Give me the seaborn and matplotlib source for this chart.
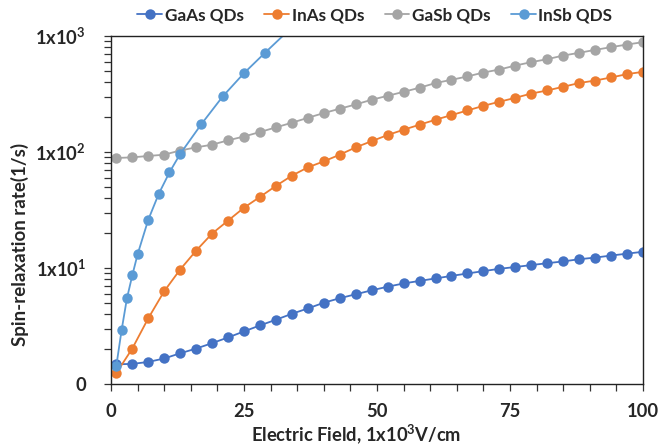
import numpy as np
import pandas as pd
import matplotlib
matplotlib.use("Agg")
import matplotlib.pyplot as plt
import seaborn as sns
from matplotlib.lines import Line2D
from matplotlib.ticker import FixedLocator, LogLocator, NullFormatter, FixedFormatter

# ---------------- data ----------------
field = [1, 4, 7, 10, 13, 16, 19, 22, 25, 28, 31, 34, 37, 40, 43, 46, 49, 52,
         55, 58, 61, 64, 67, 70, 73, 76, 79, 82, 85, 88, 91, 94, 97, 100]

gaas = [1.48, 1.49, 1.55, 1.66, 1.84, 2.02, 2.25, 2.52, 2.84, 3.20, 3.58, 4.03,
        4.48, 5.02, 5.49, 5.94, 6.42, 6.90, 7.36, 7.74, 8.13, 8.55, 8.97, 9.40,
        9.84, 10.2, 10.6, 11.0, 11.4, 11.9, 12.3, 12.8, 13.3, 13.8]

inas = [1.24, 2.02, 3.68, 6.3, 9.7, 14.1, 19.8, 25.6, 33.1, 41.0, 51.0, 62.5,
        73.7, 83.0, 94.8, 109.6, 124.0, 140.0, 155.6, 171.8, 189.7, 208.0,
        228.0, 250.0, 271.0, 293.0, 319.0, 339.0, 365.0, 393.0, 413.0, 439.0,
        469.0, 491.0]

gasb = [88.8, 89.9, 92.4, 94.8, 103.0, 109.6, 115.6, 126.0, 136.0, 148.6, 163.0,
        178.7, 197.0, 216.6, 236.0, 257.0, 282.0, 305.0, 330.0, 358.0, 393.0,
        419.0, 448.0, 484.0, 514.0, 556.0, 595.0, 631.0, 678.0, 716.0, 759.0,
        801.0, 844.0, 885.0]

insb_field = [1, 2, 3, 4, 5, 7, 9, 11, 13, 17, 21, 25, 29, 33]
insb = [1.43, 2.92, 5.47, 8.62, 13.1, 26.0, 43.8, 66.8, 96.1, 174.0, 301.0,
        478.0, 720.0, 1074.0]

series_names = ["GaAs QDs", "InAs QDs", "GaSb QDs", "InSb QDS"]
colors = ["#4472C4", "#ED7D31", "#A5A5A5", "#5B9BD5"]

x_ticks = [0, 25, 50, 75, 100]
y_ticks = [1, 10, 100, 1000]
y_tick_labels = ["0", "1x10$^1$", "1x10$^2$", "1x10$^3$"]

# ---------------- style ----------------
sns.set_style("white")
plt.rcParams["font.family"] = ["Lato", "DejaVu Sans"]
plt.rcParams["font.weight"] = "bold"
plt.rcParams["mathtext.fontset"] = "custom"
plt.rcParams["mathtext.rm"] = "Lato:bold"
plt.rcParams["mathtext.default"] = "rm"

fig = plt.figure(figsize=(6.59, 4.47), dpi=100)
ax = fig.add_axes([0.1684, 0.1409, 0.8073, 0.7786])

data_sets = [
    (field, gaas),
    (field, inas),
    (field, gasb),
    (insb_field, insb),
]

for (xs, ys), name, col in zip(data_sets, series_names, colors):
    df = pd.DataFrame({"x": xs, "y": ys})
    marks = [i for i, v in enumerate(ys) if v <= 1000]
    sns.lineplot(data=df, x="x", y="y", ax=ax, color=col, marker="o",
                 markersize=7.5, markeredgewidth=0, linewidth=1.3,
                 estimator=None, sort=False, markevery=marks, legend=False)

ax.set_yscale("log")
ax.set_xlim(0, 100)
ax.set_ylim(1, 1000)

ax.xaxis.set_major_locator(FixedLocator(x_ticks))
ax.xaxis.set_minor_locator(FixedLocator(list(range(0, 101, 5))))
ax.yaxis.set_major_locator(FixedLocator(y_ticks))
ax.yaxis.set_major_formatter(FixedFormatter(y_tick_labels))
ax.yaxis.set_minor_locator(LogLocator(base=10, subs=np.arange(2, 10)))
ax.yaxis.set_minor_formatter(NullFormatter())

ax.tick_params(axis="both", which="both", direction="out", color="#333333",
               width=0.9, bottom=True, left=True, top=False, right=False)
ax.tick_params(axis="both", which="major", length=5, labelsize=13.2)
ax.tick_params(axis="both", which="minor", length=5)
ax.tick_params(axis="x", which="major", pad=9)
ax.tick_params(axis="y", which="major", pad=13)

for side in ["left", "right", "top", "bottom"]:
    ax.spines[side].set_visible(True)
    ax.spines[side].set_color("#222222")
    ax.spines[side].set_linewidth(1.0)

ax.set_xlabel("Electric Field, 1x10$^3$V/cm", fontsize=13.2, fontweight="bold")
ax.set_ylabel("Spin-relaxation rate(1/s)", fontsize=13.5, fontweight="bold")
ax.xaxis.set_label_coords(0.46, -0.11)
ax.yaxis.set_label_coords(-0.155, 0.40)
ax.grid(False)

handles = [Line2D([0], [0], color=c, marker="o", markersize=7.5,
                  markeredgewidth=0, linewidth=1.3) for c in colors]
fig.legend(handles, series_names, loc="center",
           bbox_to_anchor=(0.569, 0.966), ncol=4, frameon=False,
           handlelength=1.45, handletextpad=0.15,
           columnspacing=1.2, prop={"weight": "bold", "size": 12.3})

fig.savefig("out.png", dpi=100)
